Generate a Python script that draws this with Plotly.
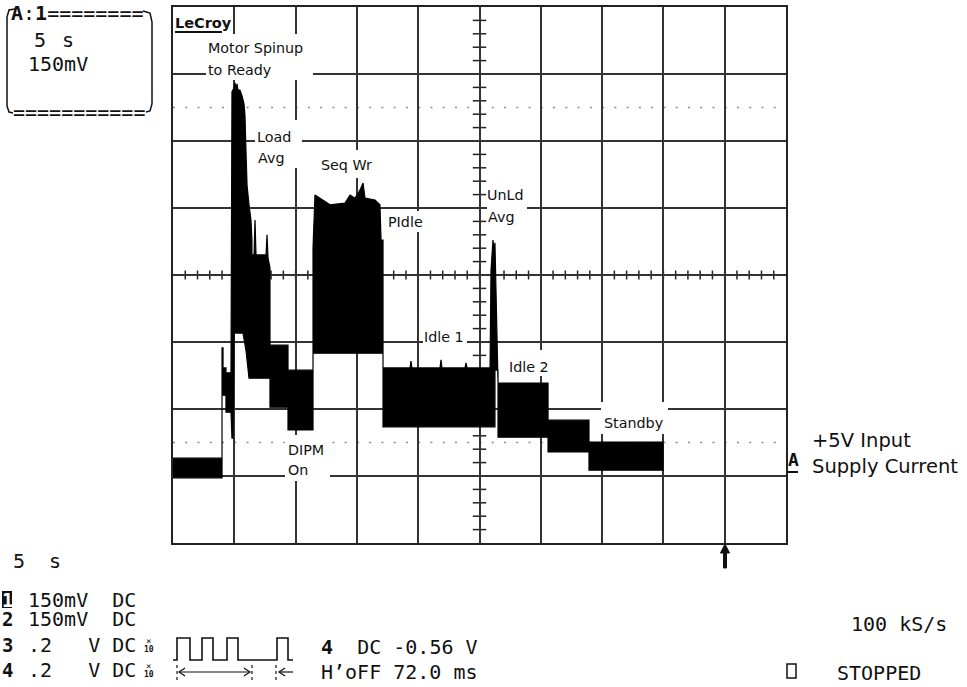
import plotly.graph_objects as go

W, H = 967, 687
PX_L, PX_R, PX_T, PX_B = 173, 786, 7, 543

# ---- data: time in s (5 s/div), sense voltage in mV (150 mV/div), centre line = 0 mV
upper_t = [0.00, 4.00, 4.00, 4.08, 4.08, 4.32, 4.32, 4.73, 4.81, 4.98, 5.06, 5.14, 5.22, 5.30,
           5.46, 5.63, 5.79, 5.87, 5.95, 6.04, 6.20, 6.36, 6.44, 6.44, 6.61, 6.69, 6.77, 7.59,
           7.67, 7.75, 7.91, 7.91, 9.38, 9.38, 11.42, 11.42, 11.58, 12.15, 12.81, 14.03, 14.44,
           14.85, 15.25, 15.50, 15.66, 16.48, 16.88, 16.97, 17.13, 17.13, 19.33, 19.41, 19.49,
           21.78, 21.86, 21.94, 23.82, 23.90, 23.98, 25.86, 25.94, 26.10, 26.18, 26.26, 26.43,
           26.51, 30.59, 30.59, 33.93, 33.93, 39.97]
upper_mv = [-410, -410, -163, -163, -208, -208, -219, -219, 410, 419, 430, 414, 428, 414,
            414, 401, 383, 358, 280, 201, 157, 123, 78, 45, 45, 123, 45, 45,
            90, 38, 16, -157, -157, -213, -213, 60, 179, 168, 157, 161, 179,
            172, 190, 206, 172, 168, 157, 78, 78, -208, -208, -193, -208,
            -208, -190, -208, -208, -197, -208, -208, 11, 78, 56, 72, -123,
            -242, -242, -325, -325, -374, -374]
lower_t = [0.00, 4.00, 4.00, 4.32, 4.32, 4.73, 4.81, 4.89, 4.98, 5.71, 5.95, 6.20, 7.91, 7.91,
           9.38, 9.38, 11.42, 11.42, 17.13, 17.13, 26.26, 26.26, 26.51, 26.51, 30.59, 30.59,
           33.93, 33.93, 39.97]
lower_mv = [-454, -454, -269, -269, -307, -307, -365, -365, -130, -130, -168, -231, -231, -296,
            -296, -347, -347, -175, -175, -340, -340, -213, -213, -363, -363, -396,
            -396, -437, -437]

state_labels = ["Motor Spinup", "to Ready", "Load", "Avg", "Seq Wr", "PIdle", "UnLd", "Avg",
                "Idle 1", "Idle 2", "Standby", "DIPM", "On"]


def X(px):
    return px / W


def Y(py):
    return 1 - py / H


fig = go.Figure()
fig.add_trace(go.Scatter(
    x=upper_t + lower_t[::-1], y=upper_mv + lower_mv[::-1],
    mode="lines", fill="toself", fillcolor="black",
    line=dict(color="black", width=1.2), hoverinfo="skip"))

shapes = []
# minor ticks on centre cross
for k in range(1, 50):
    shapes.append(dict(type="line", xref="x", yref="y", x0=k, x1=k, y0=-10, y1=10,
                       line=dict(color="#222", width=1.5), layer="below"))
for k in range(-19, 20):
    shapes.append(dict(type="line", xref="x", yref="y", x0=24.45, x1=25.55, y0=k * 30, y1=k * 30,
                       line=dict(color="#222", width=1.5), layer="below"))
# dotted lines at +-2.5 div
for v in (375, -375):
    shapes.append(dict(type="line", xref="x", yref="y", x0=0, x1=50, y0=v, y1=v,
                       line=dict(color="#8a8a8a", width=1.5, dash="2px,10.26px"), layer="below"))


def rect(x0, y0, x1, y1, fill="white", line=None):
    d = dict(type="rect", xref="paper", yref="paper", x0=X(x0), x1=X(x1), y0=Y(y1), y1=Y(y0),
             fillcolor=fill, layer="above", line=dict(width=0))
    if line:
        d["line"] = line
        d["fillcolor"] = "rgba(0,0,0,0)"
    shapes.append(d)


def path(pts, close=False, fill=None, width=1.5):
    s = "M " + " L ".join(f"{X(a):.5f},{Y(b):.5f}" for a, b in pts)
    if close:
        s += " Z"
    d = dict(type="path", xref="paper", yref="paper", path=s, layer="above",
             line=dict(color="#111", width=width))
    if fill:
        d["fillcolor"] = fill
    shapes.append(d)


# white boxes behind the state labels
for b in [(206, 34, 313, 80), (255, 120, 302, 168), (316, 150, 379, 178), (384, 211, 424, 232),
          (487, 183, 527, 230), (423, 322, 467, 346), (505, 350, 550, 376), (601, 402, 668, 434),
          (285, 435, 330, 481)]:
    rect(*b)

# LeCroy underline
path([(175, 32), (222, 32)], width=2)
# top-left info box brackets
path([(15, 9), (9, 10), (7, 17), (7, 106), (9, 112), (13, 113)], width=1.5)
path([(143, 11), (150, 13), (152, 22), (152, 104), (150, 111), (146, 112)], width=1.5)
# channel marker underline
path([(787, 472), (798, 472)], width=2)
# trigger arrow
path([(725, 544), (729.5, 553), (726.5, 553), (726.5, 568), (723.5, 568), (723.5, 553), (720.5, 553)],
     close=True, fill="#111", width=1)
# inverted "1" box
rect(2, 591, 12, 608, fill="#111")
# stopped square
rect(787, 664, 796, 678, line=dict(color="#111", width=1.5))
# pulse-train icon
path([(173, 660), (177, 660), (177, 638), (190, 638), (190, 660), (202, 660), (202, 638), (213, 638),
      (213, 660), (227, 660), (227, 638), (238, 638), (238, 660), (277, 660), (277, 638), (288, 638),
      (288, 660), (293, 660)], width=1.6)
path([(179, 672), (250, 672)], width=1.2)
path([(185, 668), (179, 672), (185, 676)], width=1.2)
path([(244, 668), (250, 672), (244, 676)], width=1.2)
path([(279, 672), (293, 672)], width=1.2)
path([(285, 668), (279, 672), (285, 676)], width=1.2)
for xx in (177, 252, 276):
    path([(xx, 665), (xx, 668)], width=1.2)
    path([(xx, 671), (xx, 674)], width=1.2)
    path([(xx, 677), (xx, 680)], width=1.2)

ann = []


def text(s, x, base, size=14.3, family="DejaVu Sans", color="#111"):
    ann.append(dict(xref="paper", yref="paper", x=X(x), y=Y(base - 0.346 * size), xanchor="left",
                    yanchor="middle", text=s, showarrow=False, borderpad=0,
                    font=dict(family=family, size=size, color=color)))


label_pos = [(207, 53), (207, 75), (256, 142), (257, 163), (320, 170), (387, 227), (486, 200),
             (487, 222), (423, 342), (508, 372), (603, 428), (287, 455), (287, 475)]
for s, (x, b) in zip(state_labels, label_pos):
    text(s, x, b)

text("+5V Input", 811, 447, size=19.5)
text("Supply Current", 811, 473, size=19.5)
text("<b>LeCroy</b>", 174, 28, size=14.5)

MONO = "DejaVu Sans Mono"
text("<b>A</b>:<b>1</b>========", 10, 20, 20, MONO)
text("5", 33, 47, 20, MONO)
text("s", 61, 47, 20, MONO)
text("150mV", 27, 71, 20, MONO)
text("===========", 12, 119, 20, MONO)

text("5  s", 12, 568, 20, MONO)
text("<b>1</b>", 1, 607, 19, MONO, color="white")
text("150mV  DC", 27, 607, 20, MONO)
text("<b>2</b>", 1, 626, 19, MONO)
text("150mV  DC", 27, 626, 20, MONO)
text("<b>3</b>", 1, 652, 19, MONO)
text(".2   V DC", 27, 652, 20, MONO)
text("<b>4</b>", 1, 677, 19, MONO)
text(".2   V DC", 27, 677, 20, MONO)
for base in (652, 677):
    text("×", 145, base - 8, 9, MONO)
    text("<b>10</b>", 143, base, 8, MONO)
text("<b>4</b>  DC -0.56 V", 320, 654, 20, MONO)
text("H’oFF 72.0 ms", 320, 679, 20, MONO)
text("100 kS/s", 850, 631, 20, MONO)
text("STOPPED", 836, 680, 20, MONO)
text("<b>A</b>", 787, 466, 18, MONO)

axis_common = dict(showgrid=True, gridcolor="#333", gridwidth=1.6, zeroline=False,
                   showticklabels=False, ticks="", showline=True, mirror=True,
                   linecolor="#222", linewidth=1.6, fixedrange=True)
fig.update_layout(
    width=W, height=H, margin=dict(l=0, r=0, t=0, b=0),
    paper_bgcolor="white", plot_bgcolor="white", showlegend=False,
    xaxis=dict(domain=[PX_L / W, PX_R / W], range=[0, 50], dtick=5, tick0=0, **axis_common),
    yaxis=dict(domain=[1 - PX_B / H, 1 - PX_T / H], range=[-600, 600], dtick=150, tick0=0,
               **axis_common),
    shapes=shapes, annotations=ann)

fig.write_html("out.html", config={"displayModeBar": False},
               post_script="document.body.style.margin='0';document.body.style.overflow='hidden';")
